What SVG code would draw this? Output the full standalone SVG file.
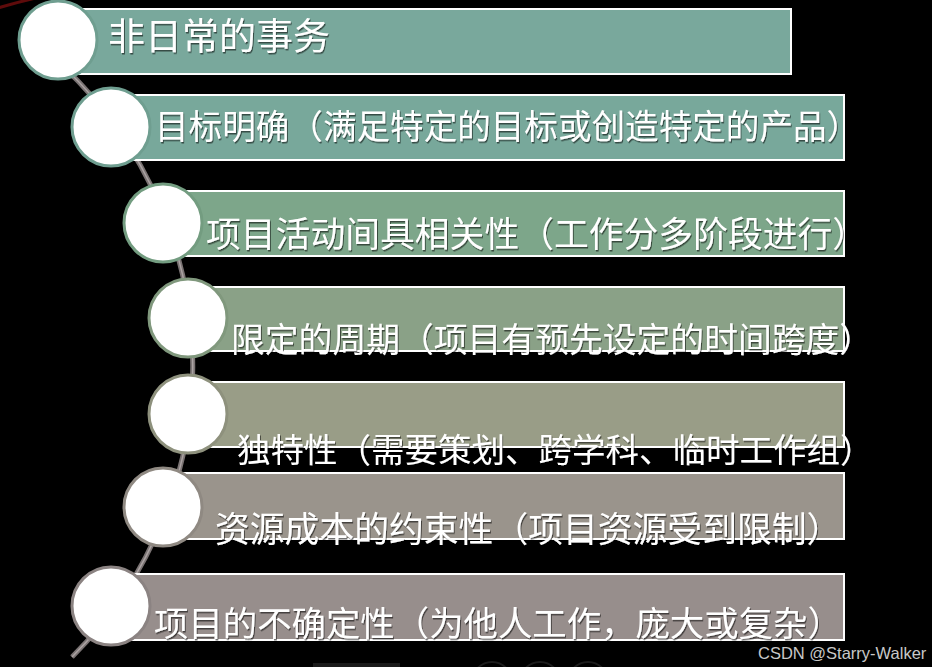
<svg xmlns="http://www.w3.org/2000/svg" width="932" height="667" viewBox="0 0 932 667">
  <defs>
    <filter id="shadow" x="-5%" y="-20%" width="110%" height="140%">
      <feDropShadow dx="1" dy="1.5" stdDeviation="0.6" flood-color="#000" flood-opacity="0.55"/>
    </filter>
  </defs>
  <style>
    .bar { stroke: #ffffff; stroke-width: 2; }
    .dot { fill: #ffffff; stroke-width: 3; }
    .lbl { fill: #ffffff; font-family: "Noto Sans CJK SC", "Noto Sans", sans-serif; filter: url(#shadow); }
    .wm { fill: #c8c8c8; font-family: "Liberation Sans", Arial, sans-serif; font-size: 16.5px; }
  </style>
  <rect width="932" height="667" fill="#000000"/>
  <path d="M -2 8 Q 18 2 36 -2" fill="none" stroke="#5e0b0b" stroke-width="3"/>
  <rect x="313" y="663" width="87" height="8" fill="#1a1a1a"/>
  <circle cx="492" cy="682" r="20" fill="none" stroke="#1c1c1c" stroke-width="2"/>
  <circle cx="540" cy="682" r="20" fill="none" stroke="#1c1c1c" stroke-width="2"/>
  <circle cx="588" cy="682" r="20" fill="none" stroke="#1c1c1c" stroke-width="2"/>

  <g id="connectors">
    <path d="M 32 40 A 411 411 0 0 1 72 657" fill="none" stroke="#7a7373" stroke-width="5"/>
    <path d="M 32 40 A 411 411 0 0 1 72 657" fill="none" stroke="#aaa2a2" stroke-width="1.5"/>
  </g>

  <g id="node1">
    <rect class="bar" x="58" y="9" width="733" height="65" fill="#79a89c"/>
    <circle class="dot" cx="58" cy="40" r="39" stroke="#6f9e90"/>
    <text class="lbl" x="108" y="50" font-size="37">非日常的事务</text>
  </g>
  <g id="node2">
    <rect class="bar" x="111" y="95" width="733" height="65" fill="#78a89b"/>
    <circle class="dot" cx="111" cy="127" r="39" stroke="#6f9e90"/>
    <text class="lbl" x="155" y="139" font-size="33.6">目标明确（满足特定的目标或创造特定的产品）</text>
  </g>
  <g id="node3">
    <rect class="bar" x="163" y="191" width="681" height="65" fill="#7da68a"/>
    <circle class="dot" cx="163" cy="223" r="39" stroke="#739c80"/>
    <text class="lbl" x="206" y="247" font-size="34.8">项目活动间具相关性（工作分多阶段进行）</text>
  </g>
  <g id="node4">
    <rect class="bar" x="188" y="287" width="656" height="64" fill="#8aa187"/>
    <circle class="dot" cx="188" cy="318" r="39" stroke="#80987d"/>
    <text class="lbl" x="231" y="352" font-size="33.8">限定的周期（项目有预先设定的时间跨度）</text>
  </g>
  <g id="node5">
    <rect class="bar" x="188" y="382" width="656" height="65" fill="#999d87"/>
    <circle class="dot" cx="188" cy="414" r="39" stroke="#8e917d"/>
    <text class="lbl" x="237" y="462" font-size="33.5">独特性（需要策划、跨学科、临时工作组）</text>
  </g>
  <g id="node6">
    <rect class="bar" x="163" y="473" width="681" height="66" fill="#9a948c"/>
    <circle class="dot" cx="163" cy="507" r="39" stroke="#8f8982"/>
    <text class="lbl" x="215" y="542" font-size="34.8">资源成本的约束性（项目资源受到限制）</text>
  </g>
  <g id="node7">
    <rect class="bar" x="111" y="574" width="733" height="66" fill="#978e8c"/>
    <circle class="dot" cx="111" cy="606" r="39" stroke="#8b8382"/>
    <text class="lbl" x="154" y="636" font-size="34.4">项目的不确定性（为他人工作，庞大或复杂）</text>
  </g>

  <text class="wm" x="758" y="659">CSDN @Starry-Walker</text>
</svg>
